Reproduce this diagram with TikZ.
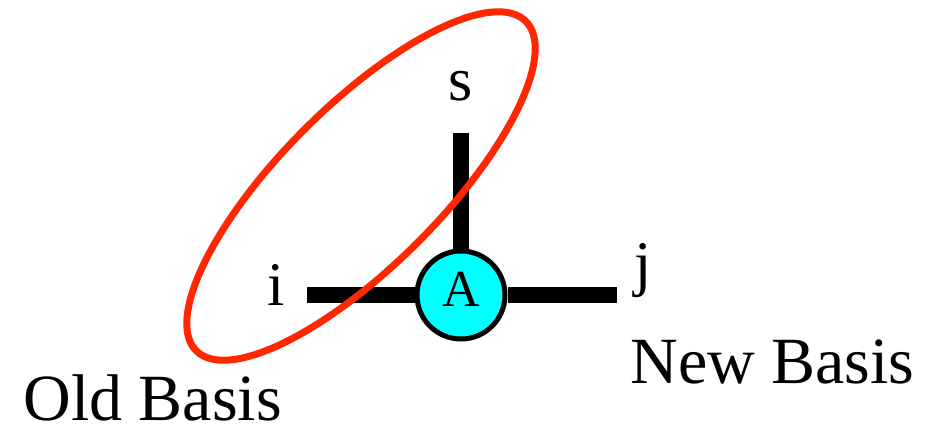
\documentclass[tikz,border=0pt]{standalone}
\usepackage{fontspec}
\setmainfont{Liberation Serif}
\usetikzlibrary{positioning}
\definecolor{ringred}{RGB}{255,38,0}
\definecolor{tensorcyan}{RGB}{0,255,255}
\tikzset{
    tensornode/.style={circle, fill=tensorcyan, draw=black, line width=2.5pt, minimum size=44pt, inner sep=0pt, text depth=6pt, font=\fontsize{26}{30}\selectfont},
    bondline/.style={line width=8pt, draw=black},
    indexlabel/.style={anchor=base, inner sep=0pt, font=\fontsize{31}{36}\selectfont},
    basislabel/.style={anchor=base west, inner sep=0pt, font=\fontsize{33}{40}\selectfont},
    basisring/.style={line width=3.5pt, draw=ringred}
}

\begin{document}
\begin{tikzpicture}[x=0.5pt, y=-0.5pt]
    \useasboundingbox (0,0) rectangle (939,435);

    \node[tensornode] (A) at (461,295) {A};
    \coordinate (iend) at (307,295);
    \coordinate (jend) at (617,295);
    \coordinate (send) at (461,133);

    % Legs
    \draw[bondline] (iend) -- (A);
    \draw[bondline] (A) -- (jend);
    \draw[bondline] (A) -- (send);

    % Index labels
    \node[indexlabel] (s) at (461,100) {s};
    \node[indexlabel] (i) at (276,305) {i};
    \node[indexlabel] (j) at (643,284) {j};

    % Bases
    \node[basislabel] (old) at (23,420) {Old Basis};
    \node[basislabel] (new) at (630,383) {New Basis};

    % Grouped legs
    \draw[basisring, rotate around={45:(361,186)}] (361,186) ellipse [x radius=233, y radius=80];
\end{tikzpicture}
\end{document}
